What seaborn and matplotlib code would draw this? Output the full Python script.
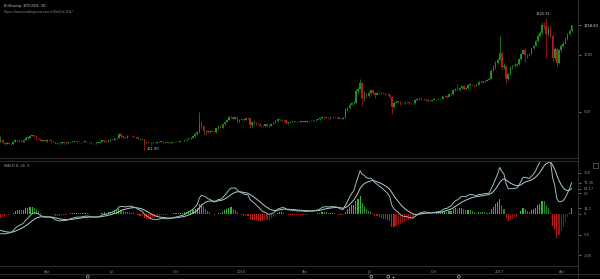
import numpy as np
import pandas as pd
import matplotlib
matplotlib.use("Agg")
import matplotlib.pyplot as plt
import matplotlib.dates as mdates
import seaborn as sns

# ---------------- data ----------------
title = "BitStamp: BTCUSD, 3D"
subtitle = "https://www.tradingview.com/x/8mDxL1Qk/"
macd_fast, macd_slow, macd_sig = 8, 26, 9
start_date = "2015-01-25"

warmup_close = [360, 330, 355, 380, 395, 390, 385, 355, 355, 345,
                325, 340, 345, 365, 400, 385, 355, 370, 365, 375,
                380, 370, 350, 350, 345, 325, 330, 335, 330, 315,
                315, 265, 290, 275, 225, 205, 215, 235]

close = [
    # 2015
    255, 230,
    220, 225, 220, 220, 235, 255, 245, 245, 240, 255,
    275, 275, 290, 295, 285, 270, 260, 245, 250, 245,
    255, 255, 245, 235, 220, 225, 225, 235, 225, 230,
    235, 240, 240, 240, 240, 235, 235, 240, 240, 237, 232,
    225, 225, 230, 230, 235, 250, 245, 240, 250, 260,
    255, 270, 270, 310, 285, 280, 275, 290, 292, 288,
    280, 280, 265, 265, 265, 230, 235, 230, 225, 230,
    228, 235, 240, 240, 230, 230, 232, 230, 236, 240,
    237, 240, 245, 245, 250, 262, 270, 275, 285, 305, 320,
    400, 375, 335, 335, 320, 330, 325, 320, 355, 375,
    360, 390, 415, 430, 455, 460, 440, 455, 420, 430,
    # 2016
    435, 430, 450, 448, 385, 410, 410, 400, 390, 380,
    375, 390, 375, 380, 395, 405, 420, 440, 425, 430,
    425, 400, 410, 415, 415, 415, 410, 415, 420, 415,
    415, 418, 420, 422, 425, 430, 435, 445, 460, 455,
    450, 445, 460, 455, 455, 455, 440, 440, 448, 520, 535,
    565, 580, 580, 680, 700, 750, 620, 660, 640, 670,
    690, 670, 650, 670, 665, 670, 665, 660, 655, 630,
    540, 580, 590, 590, 575, 575, 585, 585, 575, 575,
    575, 605, 610, 620, 610, 610, 608, 595, 600, 605,
    610, 610, 615, 615, 638, 640, 630, 655, 655, 690, 700,
    690, 710, 725, 705, 710, 740, 740, 735, 730, 740,
    760, 760, 770, 775, 780, 790, 860, 890, 930, 960,
    # 2017
    1020, 890, 905, 790, 830, 895, 900, 915, 920, 965,
    1010, 1040, 1000, 1000, 1010, 1060, 1080, 1120, 1170, 1190,
    1260, 1250, 1180, 1230, 1170, 970, 1050, 930, 1040, 1080,
    1100, 1140, 1180, 1210, 1258.80,
]

high = [
    285, 265,
    235, 240, 230, 225, 240, 262, 255, 250, 248, 260,
    280, 282, 296, 300, 296, 288, 272, 265, 255, 252,
    260, 262, 258, 248, 238, 230, 232, 240, 238, 234,
    238, 245, 246, 244, 243, 242, 238, 242, 243, 242, 238,
    234, 228, 232, 233, 238, 254, 252, 248, 253, 264,
    262, 274, 280, 318, 312, 290, 284, 294, 298, 296,
    290, 284, 282, 270, 268, 266, 240, 238, 232, 234,
    232, 238, 243, 244, 241, 233, 234, 235, 238, 242,
    242, 242, 247, 248, 254, 266, 272, 280, 290, 315, 330,
    502, 420, 385, 345, 340, 335, 335, 330, 360, 380,
    385, 400, 420, 440, 465, 465, 462, 460, 458, 436,
    440, 438, 460, 452, 448, 415, 425, 412, 400, 385,
    385, 395, 392, 385, 400, 410, 425, 445, 442, 440,
    438, 428, 415, 420, 418, 420, 418, 418, 424, 422,
    420, 422, 424, 426, 428, 434, 440, 450, 468, 465,
    458, 452, 464, 462, 458, 458, 456, 445, 452, 535, 545,
    580, 590, 595, 700, 720, 785, 760, 680, 665, 680,
    705, 695, 672, 675, 675, 675, 672, 668, 662, 660,
    630, 590, 595, 598, 592, 580, 590, 590, 588, 580,
    580, 612, 618, 625, 622, 614, 612, 610, 605, 608,
    615, 614, 620, 620, 642, 645, 645, 660, 665, 700, 710,
    745, 715, 740, 728, 715, 748, 748, 745, 738, 745,
    768, 768, 775, 782, 785, 795, 880, 910, 945, 975,
    1165, 1030, 930, 910, 840, 905, 910, 925, 925, 975,
    1020, 1045, 1060, 1010, 1015, 1065, 1090, 1130, 1185, 1210,
    1290, 1290, 1325.91, 1250, 1260, 1180, 1070, 1060, 1055, 1095,
    1120, 1160, 1195, 1225, 1265,
]

low = [
    232, 225,
    212, 215, 215, 212, 218, 232, 238, 235, 235, 238,
    252, 265, 270, 285, 280, 255, 255, 240, 242, 240,
    240, 250, 240, 232, 216, 218, 220, 222, 218, 222,
    228, 232, 235, 235, 234, 232, 230, 233, 235, 234, 228,
    222, 221, 222, 226, 228, 233, 240, 237, 238, 248,
    250, 252, 262, 268, 280, 275, 270, 272, 285, 282,
    276, 272, 260, 258, 258, 161.90, 225, 224, 210, 222,
    224, 225, 232, 236, 228, 226, 228, 227, 228, 234,
    235, 236, 238, 242, 244, 248, 260, 266, 272, 282, 300,
    315, 360, 300, 305, 315, 318, 320, 315, 318, 350,
    355, 355, 385, 410, 428, 445, 425, 435, 415, 415,
    425, 424, 428, 440, 360, 370, 395, 385, 375, 370,
    368, 365, 370, 370, 378, 392, 400, 415, 418, 420,
    420, 390, 398, 405, 410, 408, 405, 408, 412, 410,
    410, 412, 415, 417, 420, 422, 428, 432, 440, 445,
    444, 438, 442, 448, 450, 448, 435, 436, 438, 446, 510,
    530, 560, 570, 575, 670, 700, 555, 600, 620, 635,
    660, 655, 625, 645, 655, 660, 655, 650, 645, 620,
    480, 535, 575, 580, 565, 568, 570, 575, 570, 568,
    568, 572, 600, 605, 605, 605, 600, 590, 592, 598,
    602, 605, 608, 610, 612, 632, 625, 628, 645, 650, 680,
    680, 685, 700, 695, 698, 705, 730, 725, 722, 728,
    738, 752, 755, 765, 770, 778, 790, 860, 880, 920,
    955, 870, 880, 750, 780, 820, 880, 895, 905, 915,
    960, 1005, 940, 975, 990, 1005, 1050, 1075, 1110, 1160,
    1185, 1230, 975, 1170, 1160, 940, 960, 895, 920, 1030,
    1070, 1095, 1135, 1175, 1205,
]

xtick_dates = ["2015-04-01", "2015-07-01", "2015-10-01", "2016-01-01", "2016-04-01",
               "2016-07-01", "2016-10-01", "2017-01-01", "2017-04-01"]
xtick_labels = ["Apr", "Jul", "Oct", "2016", "Apr", "Jul", "Oct", "2017", "Apr"]
price_ticks = [500, 1000]
macd_ticks = [100, 50, 0, -50, -100]
event_dates = ["2015-05-29", "2016-07-04", "2016-07-28", "2016-11-05"]
event_plus = ["2016-08-03"]

# ---------------- frames ----------------
dates = pd.date_range(start_date, periods=len(close), freq="3D")
opens = [warmup_close[-1]] + close[:-1]
df = pd.DataFrame({"date": dates, "open": opens, "high": high, "low": low, "close": close})

all_close = pd.Series(warmup_close + close, dtype=float)
ema_fast = all_close.ewm(span=macd_fast, adjust=False).mean()
ema_slow = all_close.ewm(span=macd_slow, adjust=False).mean()
macd_all = ema_fast - ema_slow
signal_all = macd_all.ewm(span=macd_sig, adjust=False).mean()
n = len(close)
df["macd"] = macd_all.values[-n:]
df["signal"] = signal_all.values[-n:]
df["hist"] = df["macd"] - df["signal"]

# ---------------- style ----------------
sns.set_theme(style="dark", rc={"axes.facecolor": "black", "figure.facecolor": "black"})
plt.rcParams["font.family"] = ["DejaVu Sans"]
BG = "black"
GRID = "#2b2b2b"
TXT = "#8c8c8c"
UP = "#1f8f1f"
DN = "#b31b1b"
FS = 2.6

W, H = 600, 279
fig = plt.figure(figsize=(W / 100, H / 100), dpi=100, facecolor=BG)
ax_p = fig.add_axes([0, (H - 158) / H, 578 / W, 158 / H])
ax_m = fig.add_axes([0, (H - 266) / H, 578 / W, 105 / H])
ax_e = fig.add_axes([0, 0, 578 / W, 5 / H])

x0 = pd.Timestamp("2015-04-01") - pd.Timedelta(days=66.6)
x1 = pd.Timestamp("2017-04-01") + pd.Timedelta(days=22)

for ax in (ax_p, ax_m, ax_e):
    ax.set_facecolor(BG)
    ax.set_xlim(x0, x1)
    ax.grid(False)
    for s in ax.spines.values():
        s.set_color(GRID)
        s.set_linewidth(0.8)
    ax.spines["left"].set_visible(False)

# ---- candles ----
xd = mdates.date2num(df["date"])
up = df["close"] >= df["open"]
col = np.where(up, UP, DN)
ax_p.vlines(xd, df["low"], df["high"], colors=col, lw=0.55)
body = (df["close"] - df["open"]).values
body = np.where(np.abs(body) < 2, 2, body)
ax_p.bar(xd, body, bottom=df["open"], width=2.2, color=col, linewidth=0)
ax_p.set_ylim(96, 1482)
ax_p.yaxis.tick_right()
ax_p.set_yticks(price_ticks + [close[-1]])
ax_p.set_yticklabels([str(t) for t in price_ticks] + [f"{close[-1]:.2f}"])
ax_p.tick_params(axis="y", colors=TXT, labelsize=FS, length=2, width=0.5, pad=2)
ax_p.get_yticklabels()[-1].set_color("#d8d8d8")
ax_p.set_xticks([])
ax_p.spines["top"].set_visible(False)

imax = int(np.argmax(high))
imin = int(np.argmin(low))
ax_p.text(xd[imax] - 4, high[imax] + 15, f"{high[imax]:.2f}", color="#bfbfbf", fontsize=FS,
          ha="center", va="bottom")
ax_p.text(xd[imin] + 3, low[imin] + 10, f"{low[imin]:.2f}", color="#bfbfbf", fontsize=FS,
          ha="left", va="center")

fig.text(4 / W, 1 - 6 / H, title, color="#bdbdbd", fontsize=FS, va="center")
fig.text(4 / W, 1 - 11.5 / H, subtitle, color="#8a8a8a", fontsize=FS * 0.9, va="center")

# ---- MACD ----
hcol = []
prev = 0.0
for h in df["hist"]:
    if h >= 0:
        hcol.append("#2db82d" if h >= prev else "#1a8c1a")
    else:
        hcol.append("#c41c1c" if h <= prev else "#8e1414")
    prev = h
ax_m.bar(xd, df["hist"], width=1.6, color=hcol, linewidth=0)
sns.lineplot(data=df, x="date", y="signal", ax=ax_m, color="#b4ccd0", lw=0.7)
sns.lineplot(data=df, x="date", y="macd", ax=ax_m, color="#9cbcc2", lw=0.7)
ax_m.set_ylim(-125.6, 128)
ax_m.yaxis.tick_right()
last_m, last_s, last_h = df["macd"].iloc[-1], df["signal"].iloc[-1], df["hist"].iloc[-1]
ax_m.set_yticks(macd_ticks + [last_m, last_s, last_h])
ax_m.set_yticklabels([str(t) for t in macd_ticks] + [f"{last_m:.2f}", f"{last_s:.2f}", f"{last_h:.1f}"])
ax_m.tick_params(axis="y", colors=TXT, labelsize=FS, length=2, width=0.5, pad=2)
ax_m.set_xlabel("")
ax_m.set_ylabel("")
ax_m.set_xticks(pd.to_datetime(xtick_dates))
ax_m.set_xticklabels(xtick_labels)
ax_m.tick_params(axis="x", colors=TXT, labelsize=FS, length=1.5, width=0.5, pad=1.5, direction="out")
ax_m.text(4 / 578, 1 - 5 / 105, f"MACD {macd_fast}, {macd_slow}, {macd_sig}", transform=ax_m.transAxes,
          color="#9a9a9a", fontsize=FS, va="center")

# ---- events strip ----
ax_e.set_ylim(0, 1)
ax_e.axis("off")
ax_e.scatter(pd.to_datetime(event_dates), [0.45] * len(event_dates), s=4, facecolors="none",
             edgecolors="#bdbdbd", linewidths=0.5)
ax_e.scatter(pd.to_datetime(event_plus), [0.45], s=4, marker="+", color="#bdbdbd", linewidths=0.5)

# separators
fig.add_artist(plt.Line2D([0, 1], [1 - 274 / H] * 2, color=GRID, lw=0.8))
fig.add_artist(plt.Line2D([578 / W] * 2, [0, 1], color=GRID, lw=0.8))
fig.add_artist(plt.Rectangle((593 / W, 1 - 168 / H), 5 / W, 5 / H, fill=False, ec="#666666", lw=0.5))

fig.savefig("out.png", dpi=100, facecolor=BG)
